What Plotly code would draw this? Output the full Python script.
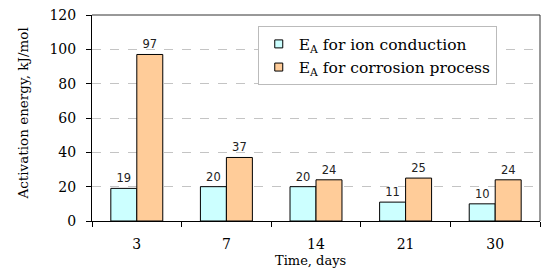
import plotly.graph_objects as go

days = ["3", "7", "14", "21", "30"]
ion = [19, 20, 20, 11, 10]
corr = [97, 37, 24, 25, 24]
yticks = [0, 20, 40, 60, 80, 100, 120]
names = ["E<sub>A</sub> for ion conduction", "E<sub>A</sub> for corrosion process"]
colors = ["#CCFFFF", "#FFCC99"]

SERIF = "DejaVu Serif"
SANS = "DejaVu Sans"

fig = go.Figure()
for vals, col in zip([ion, corr], colors):
    fig.add_bar(x=days, y=vals, showlegend=False,
                marker=dict(color=col, line=dict(color="#000000", width=1)),
                text=vals, textposition="outside", cliponaxis=False,
                textfont=dict(size=11.5, color="#222222", family=SANS))
# legend entries with small square swatches
for nm, col in zip(names, colors):
    fig.add_scatter(x=[None], y=[None], mode="markers", name=nm,
                    marker=dict(symbol="square", size=8, color=col,
                                line=dict(color="#000000", width=1)))

fig.update_layout(
    width=544, height=272,
    margin=dict(l=92, r=4, t=15, b=51),
    paper_bgcolor="white", plot_bgcolor="white",
    barmode="group", bargap=0.42, bargroupgap=0,
    font=dict(family=SERIF, size=12, color="#000000"),
    showlegend=True,
    legend=dict(x=0.37, y=0.945, xanchor="left", yanchor="top",
                bgcolor="white", bordercolor="#BBBBBB", borderwidth=1,
                font=dict(size=15.5, family=SERIF), tracegroupgap=0,
                itemwidth=30),
    xaxis=dict(type="category", tickson="boundaries", ticks="outside", ticklen=5,
               tickcolor="#000000", showline=True, linecolor="#000000",
               showgrid=False, tickfont=dict(size=14), automargin=False,
               ticklabelstandoff=10),
    yaxis=dict(range=[0, 120], tickvals=yticks, ticks="outside", ticklen=5,
               tickcolor="#000000", showline=True, linecolor="#000000",
               showgrid=True, gridcolor="#C4C4C4", griddash="dash", gridwidth=1,
               zeroline=False, tickfont=dict(size=14), automargin=False,
               ticklabelstandoff=7),
    annotations=[
        dict(text="Activation energy, kJ/mol", xref="paper", yref="paper",
             x=-0.155, y=0.52, xanchor="center", yanchor="middle", textangle=-90,
             showarrow=False, font=dict(size=13.5, family=SERIF)),
        dict(text="Time, days", xref="paper", yref="paper",
             x=0.487, y=-0.145, xanchor="center", yanchor="top",
             showarrow=False, font=dict(size=13, family=SERIF)),
    ],
)
# frame: top and right borders
fig.add_shape(type="line", xref="paper", yref="paper", x0=0, x1=1, y0=1, y1=1,
              line=dict(color="#333333", width=1))
fig.add_shape(type="line", xref="paper", yref="paper", x0=1, x1=1, y0=0, y1=1,
              line=dict(color="#333333", width=1))

fig.write_html("out.html", config={"displayModeBar": False},
               post_script="document.body.style.margin='0';document.body.style.padding='0';")
